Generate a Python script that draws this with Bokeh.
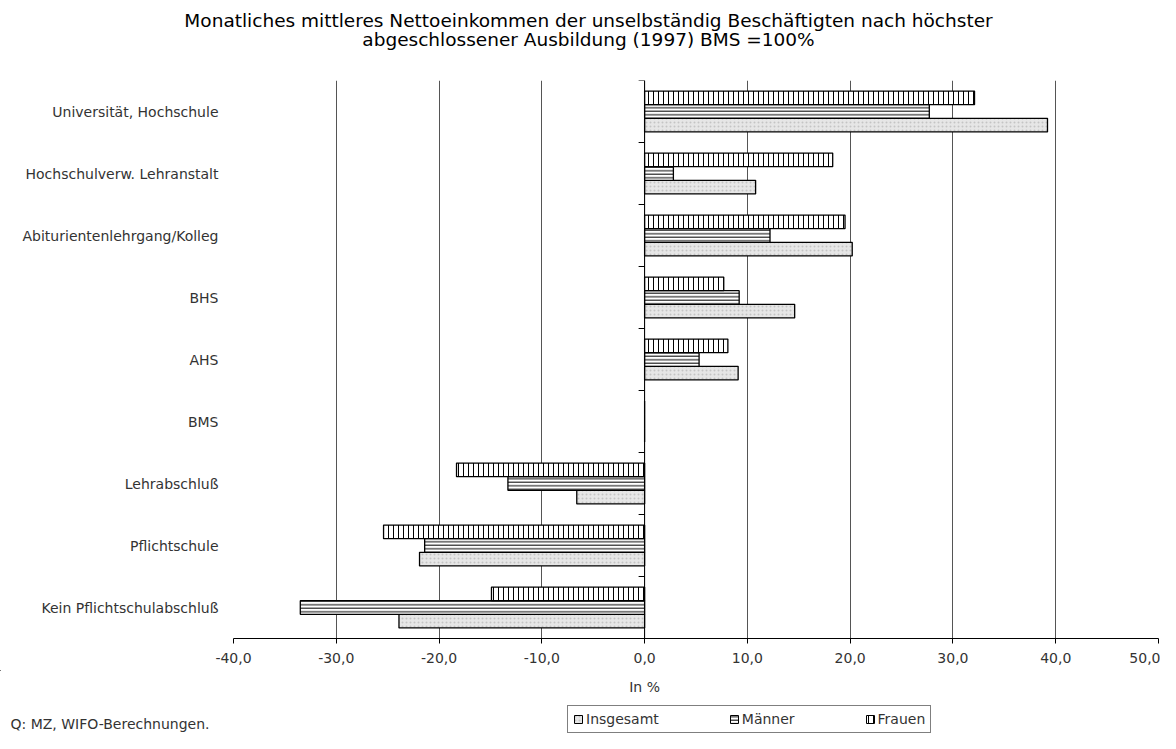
from bokeh.plotting import figure
from bokeh.models import (Range1d, FixedTicker, Label, Legend, LegendItem, ColumnDataSource)
from bokeh.layouts import column
from bokeh.embed import file_html
from bokeh.resources import INLINE

# ---------------- data ----------------
categories = ["Universität, Hochschule", "Hochschulverw. Lehranstalt", "Abiturientenlehrgang/Kolleg",
              "BHS", "AHS", "BMS", "Lehrabschluß", "Pflichtschule", "Kein Pflichtschulabschluß"]
insgesamt = [39.2, 10.8, 20.2, 14.6, 9.1, 0.0, -6.6, -21.9, -23.9]
maenner = [27.7, 2.8, 12.2, 9.2, 5.3, 0.0, -13.3, -21.4, -33.5]
frauen = [32.1, 18.3, 19.5, 7.7, 8.1, 0.0, -18.3, -25.4, -14.9]
x_ticks = [-40, -30, -20, -10, 0, 10, 20, 30, 40, 50]
series_names = ["Insgesamt", "Männer", "Frauen"]

title_lines = ["Monatliches mittleres Nettoeinkommen der unselbständig Beschäftigten nach höchster",
               "abgeschlossener Ausbildung (1997) BMS =100%"]
x_label = "In %"
source_note = "Q: MZ, WIFO-Berechnungen."

FONT = "DejaVu Sans"
TXT = "#333333"
W = 1160
n = len(categories)
centers = [n - 1 - i + 0.5 for i in range(n)]
bar_h = 0.22
offsets = {"Frauen": bar_h, "Männer": 0.0, "Insgesamt": -bar_h}

styles = {
    "Insgesamt": dict(fill_color="#e6e6e6", hatch_pattern="dot", hatch_color="#c4c4c4", hatch_scale=4, hatch_weight=1),
    "Männer": dict(fill_color="white", hatch_pattern="horizontal_line", hatch_color="black", hatch_scale=3.5, hatch_weight=1),
    "Frauen": dict(fill_color="white", hatch_pattern="vertical_line", hatch_color="black", hatch_scale=5, hatch_weight=1),
}
vals = {"Insgesamt": insgesamt, "Männer": maenner, "Frauen": frauen}


def blank(height):
    f = figure(width=W, height=height, output_backend="svg", toolbar_location=None,
               x_range=Range1d(0, W), y_range=Range1d(height, 0),
               min_border=0, outline_line_color=None, frame_align=False)
    f.axis.visible = False
    f.grid.grid_line_color = None
    return f


# ---------------- title strip ----------------
TH = 56
top = blank(TH)
for i, line in enumerate(title_lines):
    top.add_layout(Label(x=588, y=20 + i * 19, text=line, text_align="center", text_baseline="middle",
                         text_font=FONT, text_font_size="18.5px", text_color="black"))

# ---------------- main chart ----------------
MH = 614
LEFT, RIGHT, TOPB, BOTTOM = 233, 2, 80 - TH, 32
frame_w = W - LEFT - RIGHT

p = figure(width=W, height=MH, output_backend="svg", toolbar_location=None,
           x_range=Range1d(x_ticks[0], x_ticks[-1]), y_range=Range1d(0, n),
           min_border_left=LEFT, min_border_right=RIGHT, min_border_top=TOPB,
           min_border_bottom=BOTTOM, outline_line_color=None, frame_align=False)

renderers = {}
for name in series_names:
    src = ColumnDataSource(dict(y=[c + offsets[name] for c in centers], right=vals[name]))
    renderers[name] = p.hbar(y="y", left=0, right="right", height=bar_h, source=src,
                             line_color="black", line_width=1.3, **styles[name])

units_per_px = (x_ticks[-1] - x_ticks[0]) / frame_w
p.segment(x0=[0], y0=[0], x1=[0], y1=[n], line_color="black", line_width=1)
p.segment(x0=[-6 * units_per_px] * (n + 1), y0=list(range(n + 1)), x1=[0] * (n + 1),
          y1=list(range(n + 1)), line_color="black", line_width=1)

p.xaxis.ticker = FixedTicker(ticks=x_ticks)
p.xaxis.major_label_overrides = {t: f"{t:.1f}".replace(".", ",") for t in x_ticks}
p.xaxis.major_tick_out = 5
p.xaxis.major_tick_in = 0
p.xaxis.minor_tick_line_color = None
p.xaxis.axis_line_color = "black"
p.xaxis.major_label_text_font = FONT
p.xaxis.major_label_text_font_size = "14px"
p.xaxis.major_label_text_color = TXT
p.xaxis.major_label_standoff = 9
p.xgrid.ticker = FixedTicker(ticks=x_ticks)
p.xgrid.grid_line_color = "#555555"
p.ygrid.grid_line_color = None

p.yaxis.ticker = FixedTicker(ticks=centers)
p.yaxis.major_label_overrides = {c: categories[i] for i, c in enumerate(centers)}
p.yaxis.major_tick_line_color = None
p.yaxis.major_tick_out = 0
p.yaxis.major_tick_in = 0
p.yaxis.minor_tick_line_color = None
p.yaxis.axis_line_color = None
p.yaxis.major_label_standoff = 15
p.yaxis.major_label_text_font = FONT
p.yaxis.major_label_text_font_size = "14px"
p.yaxis.major_label_text_color = TXT

# ---------------- bottom strip: axis title, source, legend ----------------
BH = 733 - TH - MH
bot = blank(BH)
zero_page_x = LEFT + (0 - x_ticks[0]) / units_per_px
bot.add_layout(Label(x=zero_page_x, y=16, text=x_label, text_align="center", text_baseline="middle",
                     text_font=FONT, text_font_size="14px", text_color=TXT))
bot.add_layout(Label(x=10, y=BH - 10, text=source_note, text_align="left", text_baseline="middle",
                     text_font=FONT, text_font_size="14px", text_color=TXT))
dummy = {}
for name in series_names:
    # off-screen stand-ins so the legend can show each series' pattern
    dummy[name] = bot.hbar(y=[-1000], left=[-1000], right=[-999], height=1, line_color="black",
                           line_width=1, **styles[name])
legend = Legend(items=[LegendItem(label=nm, renderers=[dummy[nm]]) for nm in series_names],
                orientation="horizontal", location=(567, 0),
                border_line_color="black", border_line_width=1, background_fill_alpha=1,
                label_text_font=FONT, label_text_font_size="14px", label_text_color=TXT,
                glyph_width=10, glyph_height=10, label_standoff=3, spacing=70,
                padding=5, margin=0, label_height=14)
bot.add_layout(legend, "center")

layout = column(top, p, bot, spacing=0)
open("out.html", "w").write(file_html(layout, INLINE))
